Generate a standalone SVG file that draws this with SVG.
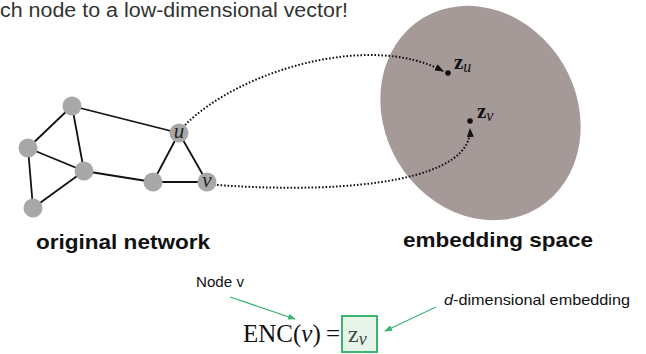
<svg xmlns="http://www.w3.org/2000/svg" width="646" height="354" viewBox="0 0 646 354">
<defs>
<style>
.edge{stroke:#111;stroke-width:1.8;fill:none}
.node{fill:#a8a8a8}
.dot{stroke:#111;stroke-width:2;fill:none;stroke-dasharray:1.6 1.9}
.green{stroke:#3cb371;stroke-width:1.3;fill:none}
.sans{font-family:"Liberation Sans",Arial,sans-serif}
.serif{font-family:"Liberation Serif","Times New Roman",serif}
.lab{font-family:"Liberation Serif","Times New Roman",serif;font-style:italic;font-size:21px;fill:#222;text-anchor:middle}
.cap{font-family:"Liberation Sans",Arial,sans-serif;font-weight:bold;font-size:21px;fill:#111}
</style>
<marker id="ab" markerWidth="9" markerHeight="7" refX="8" refY="3.5" orient="auto" markerUnits="userSpaceOnUse">
<path d="M0,0 L9,3.5 L0,7 z" fill="#111"/>
</marker>
<marker id="ag" markerWidth="8" markerHeight="6" refX="7" refY="3" orient="auto" markerUnits="userSpaceOnUse">
<path d="M0,0 L8,3 L0,6 z" fill="#3cb371"/>
</marker>
</defs>
<rect width="646" height="354" fill="#fff"/>
<text class="sans" x="0" y="17" font-size="20" fill="#333" textLength="348" lengthAdjust="spacingAndGlyphs">ch node to a low-dimensional vector!</text>

<g id="embedding-space">
<ellipse cx="480.5" cy="113" rx="96" ry="111" transform="rotate(-31 480.5 113)" fill="#a69a99"/>
</g>

<g id="edges">
<line class="edge" x1="72" y1="106" x2="28" y2="148"/>
<line class="edge" x1="72" y1="106" x2="84" y2="171"/>
<line class="edge" x1="72" y1="106" x2="179" y2="133"/>
<line class="edge" x1="28" y1="148" x2="84" y2="171"/>
<line class="edge" x1="28" y1="148" x2="33" y2="208"/>
<line class="edge" x1="84" y1="171" x2="33" y2="208"/>
<line class="edge" x1="84" y1="171" x2="153" y2="182"/>
<line class="edge" x1="153" y1="182" x2="179" y2="133"/>
<line class="edge" x1="153" y1="182" x2="207" y2="182"/>
<line class="edge" x1="179" y1="133" x2="207" y2="182"/>
</g>

<g id="n1"><circle class="node" cx="72" cy="106" r="9.5"/></g>
<g id="n2"><circle class="node" cx="28" cy="148" r="9.5"/></g>
<g id="n3"><circle class="node" cx="84" cy="171" r="9.5"/></g>
<g id="n4"><circle class="node" cx="33" cy="208" r="9.5"/></g>
<g id="n5"><circle class="node" cx="153" cy="182" r="9.5"/></g>
<g id="node-u"><circle class="node" cx="179" cy="133" r="9.5"/><text class="lab" x="179" y="138">u</text></g>
<g id="node-v"><circle class="node" cx="207" cy="182" r="9.5"/><text class="lab" x="207" y="187">v</text></g>

<g id="zu">
<circle cx="448" cy="73" r="2.8" fill="#111"/>
<text class="serif" x="454" y="69" font-size="21" font-weight="bold" fill="#111">z<tspan font-size="16" font-weight="normal" font-style="italic" dy="3">u</tspan></text>
</g>
<g id="zv">
<circle cx="470" cy="121" r="2.8" fill="#111"/>
<text class="serif" x="477" y="118" font-size="21" font-weight="bold" fill="#111">z<tspan font-size="16" font-weight="normal" font-style="italic" dy="3">v</tspan></text>
</g>

<g id="connectors">
<path class="dot" d="M185,125 C240,70 370,32 443,71" marker-end="url(#ab)"/>
<path class="dot" d="M217,185 C360,195 472,178 470,129" marker-end="url(#ab)"/>
<line class="green" x1="230" y1="297" x2="295" y2="319" marker-end="url(#ag)"/>
<line class="green" x1="436" y1="307" x2="385" y2="331" marker-end="url(#ag)"/>
</g>

<text class="cap" x="36" y="249" textLength="174" lengthAdjust="spacingAndGlyphs">original network</text>
<text class="cap" x="403" y="247" textLength="190" lengthAdjust="spacingAndGlyphs">embedding space</text>

<g id="label-node-v">
<text class="sans" x="196" y="287" font-size="14" fill="#111" textLength="48" lengthAdjust="spacingAndGlyphs">Node v</text>
</g>
<g id="label-d-dim">
<text class="sans" x="444" y="305" font-size="15" fill="#111" textLength="186" lengthAdjust="spacingAndGlyphs"><tspan font-style="italic">d</tspan>-dimensional embedding</text>
</g>

<g id="formula">
<text class="serif" x="243" y="342" font-size="25" fill="#111">ENC(<tspan font-style="italic">v</tspan>)</text>
<text class="serif" x="326" y="342" font-size="25" fill="#111">=</text>
<rect x="342" y="316" width="35" height="36" fill="#e6f4ea" stroke="#3cb371" stroke-width="2"/>
<text class="serif" x="348" y="342" font-size="24" fill="#3d4a42">z<tspan font-style="italic" font-size="18" dy="3">v</tspan></text>
</g>
</svg>
